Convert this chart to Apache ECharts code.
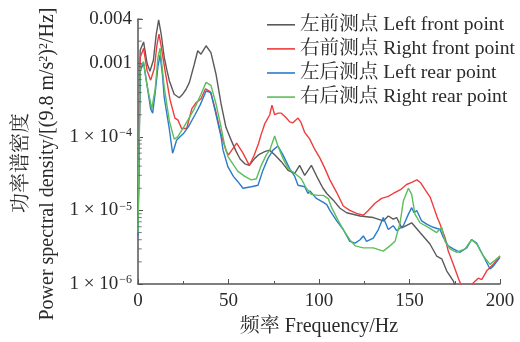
<!DOCTYPE html>
<html>
<head>
<meta charset="utf-8">
<script src="https://cdn.jsdelivr.net/npm/echarts@6/dist/echarts.min.js"></script>
<style>
  html, body { margin: 0; padding: 0; background: #fff; }
  #chart { width: 520px; height: 342px; }
</style>
</head>
<body>
<div id="chart"></div>
<script>
// [frequency Hz, PSD (9.8 m/s^2)^2/Hz]
const leftFront = [
  [0, 6e-6], [1.2, 1.5e-3], [3.1, 1.95e-3], [5, 1.0e-3], [6.6, 7.8e-4], [8.5, 1.1e-3],
  [10, 2.4e-3], [11.4, 3.9e-3], [12.8, 2.5e-3], [14.5, 1.2e-3], [16, 8e-4], [17.3, 5.8e-4],
  [20, 3.8e-4], [22.8, 3.4e-4], [24.7, 3.8e-4], [26.5, 4.4e-4], [28.4, 5.5e-4], [31.1, 9.7e-4],
  [33, 1.48e-3], [34.8, 1.33e-3], [37.6, 1.73e-3], [40.3, 1.4e-3], [43.1, 7.1e-4], [45.9, 2.8e-4],
  [48.6, 1.35e-4], [51.4, 9.1e-5], [54, 6.5e-5], [56.4, 5.0e-5], [59, 4.3e-5], [61.5, 4.1e-5],
  [64.5, 5.1e-5], [67, 5.8e-5], [70, 6.3e-5], [72.7, 6.6e-5], [75.5, 5.7e-5], [79.2, 4.6e-5],
  [82.9, 3.5e-5], [86.6, 3.2e-5], [89.3, 4.1e-5], [92.1, 3.0e-5], [95.8, 4.1e-5], [99.4, 2.7e-5],
  [102.2, 2.0e-5], [104.3, 1.7e-5], [107.9, 1.38e-5], [111.6, 1.07e-5], [115.3, 9.3e-6],
  [122.7, 8.4e-6], [130, 8.0e-6], [135.5, 7.2e-6], [138.3, 8.4e-6], [141, 7.6e-6], [142.9, 8.0e-6],
  [145.7, 5.8e-6], [151.2, 6.8e-6], [155.8, 5.0e-6], [161.3, 3.5e-6], [165, 2.4e-6],
  [167.8, 2.2e-6], [170.6, 1.5e-6], [174.2, 1.1e-6], [177, 7e-7], [180, 5e-7]
];
const rightFront = [
  [0, 5e-6], [1.2, 1.2e-3], [3.1, 1.6e-3], [5, 8e-4], [7, 5.9e-4], [9, 8.5e-4], [10.5, 1.8e-3],
  [11.6, 2.5e-3], [13, 1.6e-3], [14.9, 8.1e-4], [17.7, 3.2e-4], [20.4, 1.8e-4], [22, 1.7e-4],
  [24.1, 1.3e-4], [26.9, 1.3e-4], [29.7, 2.4e-4], [32, 2.9e-4], [34.8, 3.3e-4], [37.3, 4.5e-4],
  [40, 4.1e-4], [42.8, 2.3e-4], [45.6, 1.15e-4], [48.6, 6.5e-5], [50, 5.7e-5], [54.5, 8.2e-5],
  [58, 6e-5], [61.5, 4.1e-5], [64, 5.5e-5], [66.5, 8e-5], [68.1, 1.09e-4], [70, 1.5e-4],
  [72.8, 2.0e-4], [74, 2.7e-4], [75.5, 2.0e-4], [77.5, 2.1e-4], [79.2, 2.1e-4], [82, 1.8e-4],
  [83.8, 1.6e-4], [85.6, 1.55e-4], [88.4, 1.8e-4], [89.9, 1.6e-4], [92.1, 1.15e-4], [94.9, 9.3e-5],
  [97.6, 6.8e-5], [100.6, 5.1e-5], [103.3, 3.7e-5], [106, 2.6e-5], [109.8, 1.75e-5],
  [113.4, 1.15e-5], [117, 1.0e-5], [120.8, 9.1e-6], [124.5, 8.6e-6], [127.2, 1.0e-5],
  [130.9, 1.25e-5], [134.6, 1.46e-5], [138.3, 1.55e-5], [141, 1.7e-5], [144.8, 1.9e-5],
  [148.4, 2.25e-5], [151.2, 2.4e-5], [154.1, 2.6e-5], [156, 2.4e-5], [158.7, 1.9e-5],
  [161.5, 1.5e-5], [163.4, 1.1e-5], [165.2, 8.2e-6], [166.9, 6.5e-6], [169.6, 4.3e-6],
  [171.4, 2.8e-6], [174.2, 1.85e-6], [177, 1.2e-6], [179, 9e-7], [181, 8e-7], [183.5, 8.5e-7],
  [185.3, 1.04e-6], [188, 1.2e-6], [189.9, 1.15e-6], [192.6, 1.5e-6], [196.3, 1.85e-6], [200, 2.4e-6]
];
const leftRear = [
  [0, 4.5e-6], [1.2, 8e-4], [3.1, 1.0e-3], [5, 5e-4], [7, 2.4e-4], [8.1, 2.1e-4], [9.5, 4e-4],
  [11, 9e-4], [12.2, 1.3e-3], [13.5, 7e-4], [14.5, 3.4e-4], [17.3, 1.28e-4], [19.1, 6e-5],
  [20, 7e-5], [21.3, 9e-5], [23.2, 1.0e-4], [25, 1.1e-4], [27.8, 1.37e-4], [31.5, 2.0e-4],
  [34.3, 2.7e-4], [37.6, 4.2e-4], [40.3, 4.0e-4], [43.1, 2.0e-4], [45.9, 1.0e-4], [47, 6.6e-5],
  [49.7, 3.9e-5], [52.7, 2.9e-5], [55.2, 2.46e-5], [58, 2.0e-5], [62.6, 2.1e-5], [66.3, 2.2e-5],
  [69, 3.5e-5], [71.8, 5.1e-5], [74.6, 6.6e-5], [77.3, 7.5e-5], [80.1, 5.7e-5], [83.8, 3.7e-5],
  [86.6, 2.9e-5], [88.4, 2.2e-5], [92.1, 2.1e-5], [93.9, 1.7e-5], [95, 1.84e-5], [98.5, 1.46e-5],
  [102.2, 1.3e-5], [104.3, 1.2e-5], [106, 1.0e-5], [109.8, 7.2e-6], [113.4, 5.5e-6],
  [117, 3.8e-6], [120, 3.6e-6], [122.7, 4.0e-6], [124.5, 4.5e-6], [126.3, 3.8e-6], [130, 4.2e-6],
  [132.8, 5.5e-6], [135.5, 8.0e-6], [138.3, 5.5e-6], [141, 6.2e-6], [142.9, 5.3e-6],
  [146.6, 6.2e-6], [149.4, 8.9e-6], [151.2, 1.09e-5], [152.5, 9.3e-6], [154, 1.0e-5],
  [156.7, 7.2e-6], [159.5, 6.5e-6], [163.1, 5.9e-6], [166.9, 5.5e-6], [168.7, 4.3e-6],
  [171.4, 3.3e-6], [174.2, 3.0e-6], [177.9, 2.7e-6], [181.6, 3.1e-6], [184.3, 4.0e-6],
  [187.1, 3.6e-6], [190.8, 2.4e-6], [194.5, 1.6e-6], [196.3, 1.75e-6], [200, 2.3e-6]
];
const rightRear = [
  [0, 5e-6], [1.2, 9e-4], [3.1, 1.05e-3], [5, 5e-4], [7.6, 2.4e-4], [9.5, 4.5e-4], [11, 1.2e-3],
  [12.2, 1.6e-3], [13.3, 9e-4], [14.5, 4.7e-4], [17.3, 1.66e-4], [20, 9.3e-5], [21.9, 1.0e-4],
  [24.7, 1.28e-4], [27.4, 1.66e-4], [31.1, 2.4e-4], [34.8, 3.8e-4], [37.6, 5.5e-4], [40.3, 5.0e-4],
  [43.1, 2.8e-4], [45.9, 1.35e-4], [47.7, 8e-5], [49.7, 5.4e-5], [55.2, 3.4e-5], [59, 2.9e-5],
  [62.6, 2.6e-5], [65.4, 2.7e-5], [68.1, 4.1e-5], [70.9, 5.7e-5], [72.8, 6.6e-5], [75.5, 1.03e-4],
  [77.3, 7.5e-5], [80.1, 5.1e-5], [82.9, 3.7e-5], [86.6, 3.2e-5], [90.2, 2.7e-5], [93, 2.0e-5],
  [95.8, 1.65e-5], [99.4, 1.6e-5], [102.4, 1.6e-5], [105.1, 1.45e-5], [107, 1.09e-5],
  [110.7, 7.2e-6], [113.4, 5.5e-6], [117, 4.0e-6], [120, 3.3e-6], [124.5, 3.1e-6], [130, 3.1e-6],
  [135.5, 2.8e-6], [139.2, 3.3e-6], [142, 3.8e-6], [144.8, 6.8e-6], [146.6, 1.34e-5],
  [149.4, 2.0e-5], [151.2, 1.65e-5], [153, 8.9e-6], [155.8, 6.8e-6], [160.4, 5.9e-6],
  [165, 5.0e-6], [167.8, 5.9e-6], [169.6, 3.8e-6], [172.4, 3.0e-6], [176.1, 2.7e-6],
  [180.7, 3.0e-6], [184.3, 4.0e-6], [187.1, 3.5e-6], [190.8, 2.4e-6], [194.5, 1.85e-6], [200, 2.4e-6]
];

const seriesNames = ['左前测点 Left front point', '右前测点 Right front point', '左后测点 Left rear point', '右后测点 Right rear point'];
const seriesColors = ['#5a5a5a', '#ee3d3d', '#2b7bcb', '#5cbd5c'];
const seriesData = [leftFront, rightFront, leftRear, rightRear];

// log minor ticks: k * 10^n, drawn on the y axis
const minorMultipliers = [2, 3, 4, 5, 6, 7, 8, 9];
const decades = [-6, -5, -4, -3];
const yMin = 1e-6, yMax = 0.004;
const minorTicks = [];
decades.forEach(d => minorMultipliers.forEach(k => {
  const v = k * Math.pow(10, d);
  if (v <= yMax * 1.0001) minorTicks.push([0, v]);
}));

const serif = '"Liberation Serif", "Times New Roman", "Noto Serif CJK SC", "Noto Sans CJK SC", serif';
const axisColor = '#555';
const textColor = '#2a2a2a';

const chart = echarts.init(document.getElementById('chart'), null, { renderer: 'canvas' });

const lines = seriesData.map((d, i) => ({
  name: seriesNames[i],
  type: 'line',
  data: d,
  symbol: 'none',
  showSymbol: false,
  clip: true,
  lineStyle: { color: seriesColors[i], width: 1.4 },
  itemStyle: { color: seriesColors[i] },
  z: 3
}));

chart.setOption({
  animation: false,
  backgroundColor: '#fff',
  grid: { left: 138, right: 20, top: 19, bottom: 58, containLabel: false, outerBoundsMode: 'none' },
  legend: {
    orient: 'vertical',
    left: 267,
    top: 15,
    padding: 0,
    itemWidth: 28,
    itemHeight: 1.6,
    itemGap: 4.5,
    icon: 'rect',
    data: seriesNames.map(n => ({ name: n, icon: 'rect' })),
    textStyle: { fontFamily: serif, fontSize: 19.6, color: textColor, padding: [0, 0, 0, 0] }
  },
  xAxis: {
    type: 'value',
    min: 0,
    max: 200,
    interval: 50,
    name: '频率 Frequency/Hz',
    nameLocation: 'middle',
    nameGap: 33,
    nameTextStyle: { fontFamily: serif, fontSize: 20, color: textColor },
    axisLine: { show: true, lineStyle: { color: axisColor, width: 1.5 } },
    axisTick: { show: true, inside: true, length: 5, lineStyle: { color: axisColor, width: 1 } },
    minorTick: { show: true, splitNumber: 2, length: 3, lineStyle: { color: axisColor, width: 1 } },
    splitLine: { show: false },
    axisLabel: { fontFamily: serif, fontSize: 19, color: textColor, margin: 8, showMinLabel: true, showMaxLabel: true }
  },
  yAxis: {
    type: 'log',
    logBase: 10,
    min: yMin,
    max: yMax,
    axisLine: { show: true, lineStyle: { color: axisColor, width: 1.5 } },
    axisTick: { show: true, inside: true, length: 5, lineStyle: { color: axisColor, width: 1 } },
    splitLine: { show: false },
    axisLabel: {
      fontFamily: serif,
      fontSize: 19,
      color: textColor,
      margin: 6,
      showMinLabel: true,
      showMaxLabel: true,
      formatter: function (v) {
        const e = Math.round(Math.log10(v));
        if (e <= -4 && Math.abs(v / Math.pow(10, e) - 1) < 1e-6) {
          return '1 × 10{sup|−' + (-e) + '}';
        }
        return String(+v.toPrecision(3));
      },
      rich: {
        sup: { fontFamily: serif, fontSize: 12, color: textColor, verticalAlign: 'top', padding: [0, 0, 8, 1] }
      }
    }
  },
  graphic: [
    {
      type: 'text',
      x: 22,
      y: 163,
      rotation: Math.PI / 2,
      silent: true,
      style: {
        text: '功率谱密度',
        fontFamily: serif,
        fontSize: 20,
        fill: textColor,
        align: 'center',
        verticalAlign: 'middle'
      }
    },
    {
      type: 'text',
      x: 48,
      y: 164,
      rotation: Math.PI / 2,
      silent: true,
      style: {
        text: 'Power spectral density/[(9.8 m/s{sup|2}){sup|2}/Hz]',
        fontFamily: serif,
        fontSize: 20,
        fill: textColor,
        align: 'center',
        verticalAlign: 'middle',
        rich: {
          sup: { fontFamily: serif, fontSize: 12, fill: textColor, verticalAlign: 'top', padding: [0, 0, 8, 0] }
        }
      }
    }
  ],
  series: lines.concat([{
    name: 'minorTicks',
    type: 'scatter',
    data: minorTicks,
    symbol: 'rect',
    symbolSize: [3.5, 1],
    symbolOffset: [2, 0],
    itemStyle: { color: axisColor },
    silent: true,
    clip: false,
    z: 4
  }])
});
</script>
</body>
</html>
